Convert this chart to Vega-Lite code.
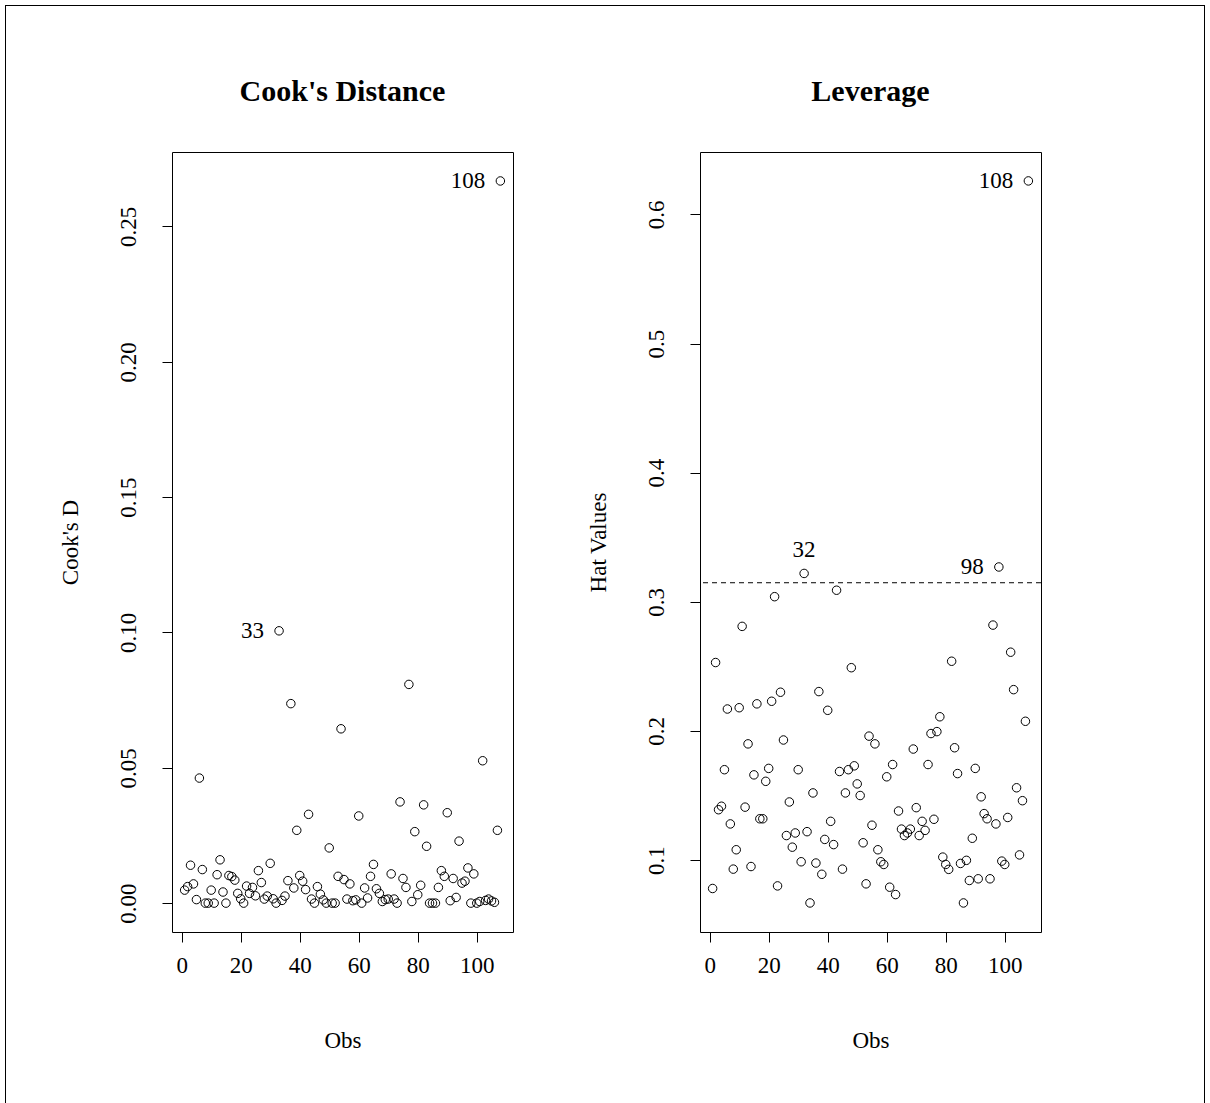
{
  "$schema": "https://vega.github.io/schema/vega-lite/v6.json",
  "background": "white",
  "padding": 5,
  "bounds": "flush",
  "spacing": 0,
  "config": {
    "font": "Liberation Serif",
    "view": {"stroke": "black", "strokeWidth": 1},
    "axis": {
      "domain": false, "grid": false, "tickColor": "black", "tickSize": 10, "tickWidth": 1,
      "labelColor": "black", "titleColor": "black", "labelFont": "Liberation Serif", "titleFont": "Liberation Serif",
      "labelFontSize": 23, "titleFontSize": 23, "titleFontWeight": "normal",
      "labelFlush": false, "labelOverlap": false, "labelBound": false
    },
    "title": {"font": "Liberation Serif", "fontSize": 30, "fontWeight": "bold", "color": "black"}
  },
  "datasets": {
    "obs": [
      {"Obs":1,"cooksD":0.0048,"hat":0.078},{"Obs":2,"cooksD":0.0061,"hat":0.253},{"Obs":3,"cooksD":0.014,"hat":0.139},
      {"Obs":4,"cooksD":0.0071,"hat":0.1417},{"Obs":5,"cooksD":0.0013,"hat":0.170},{"Obs":6,"cooksD":0.0462,"hat":0.217},
      {"Obs":7,"cooksD":0.0124,"hat":0.128},{"Obs":8,"cooksD":0.0,"hat":0.093},{"Obs":9,"cooksD":0.0,"hat":0.108},
      {"Obs":10,"cooksD":0.0048,"hat":0.218},{"Obs":11,"cooksD":0.0,"hat":0.281},{"Obs":12,"cooksD":0.0105,"hat":0.141},
      {"Obs":13,"cooksD":0.016,"hat":0.190},{"Obs":14,"cooksD":0.0041,"hat":0.095},{"Obs":15,"cooksD":0.0,"hat":0.166},
      {"Obs":16,"cooksD":0.0102,"hat":0.221},{"Obs":17,"cooksD":0.0098,"hat":0.132},{"Obs":18,"cooksD":0.0085,"hat":0.132},
      {"Obs":19,"cooksD":0.0036,"hat":0.161},{"Obs":20,"cooksD":0.0016,"hat":0.171},{"Obs":21,"cooksD":0.0,"hat":0.223},
      {"Obs":22,"cooksD":0.0063,"hat":0.304},{"Obs":23,"cooksD":0.0036,"hat":0.080},{"Obs":24,"cooksD":0.0058,"hat":0.230},
      {"Obs":25,"cooksD":0.0027,"hat":0.193},{"Obs":26,"cooksD":0.012,"hat":0.119},{"Obs":27,"cooksD":0.0076,"hat":0.145},
      {"Obs":28,"cooksD":0.0015,"hat":0.110},{"Obs":29,"cooksD":0.0026,"hat":0.121},{"Obs":30,"cooksD":0.0147,"hat":0.170},
      {"Obs":31,"cooksD":0.0016,"hat":0.0987},{"Obs":32,"cooksD":0.0,"hat":0.322},{"Obs":33,"cooksD":0.1006,"hat":0.122},
      {"Obs":34,"cooksD":0.001,"hat":0.0668},{"Obs":35,"cooksD":0.0026,"hat":0.152},{"Obs":36,"cooksD":0.0083,"hat":0.0977},
      {"Obs":37,"cooksD":0.0737,"hat":0.2305},{"Obs":38,"cooksD":0.0056,"hat":0.089},{"Obs":39,"cooksD":0.0269,"hat":0.116},
      {"Obs":40,"cooksD":0.0102,"hat":0.216},{"Obs":41,"cooksD":0.0081,"hat":0.130},{"Obs":42,"cooksD":0.005,"hat":0.112},
      {"Obs":43,"cooksD":0.0328,"hat":0.309},{"Obs":44,"cooksD":0.0015,"hat":0.1686},{"Obs":45,"cooksD":0.0,"hat":0.093},
      {"Obs":46,"cooksD":0.0061,"hat":0.152},{"Obs":47,"cooksD":0.0033,"hat":0.170},{"Obs":48,"cooksD":0.0012,"hat":0.249},
      {"Obs":49,"cooksD":0.0,"hat":0.173},{"Obs":50,"cooksD":0.0204,"hat":0.159},{"Obs":51,"cooksD":0.0,"hat":0.150},
      {"Obs":52,"cooksD":0.0,"hat":0.1134},{"Obs":53,"cooksD":0.0099,"hat":0.0816},{"Obs":54,"cooksD":0.0644,"hat":0.196},
      {"Obs":55,"cooksD":0.0087,"hat":0.127},{"Obs":56,"cooksD":0.0015,"hat":0.190},{"Obs":57,"cooksD":0.0071,"hat":0.108},
      {"Obs":58,"cooksD":0.0009,"hat":0.0987},{"Obs":59,"cooksD":0.0012,"hat":0.0966},{"Obs":60,"cooksD":0.0322,"hat":0.1645},
      {"Obs":61,"cooksD":0.0,"hat":0.079},{"Obs":62,"cooksD":0.0056,"hat":0.174},{"Obs":63,"cooksD":0.0019,"hat":0.0733},
      {"Obs":64,"cooksD":0.0099,"hat":0.138},{"Obs":65,"cooksD":0.0143,"hat":0.124},{"Obs":66,"cooksD":0.0053,"hat":0.119},
      {"Obs":67,"cooksD":0.0036,"hat":0.121},{"Obs":68,"cooksD":0.0006,"hat":0.124},{"Obs":69,"cooksD":0.0013,"hat":0.186},
      {"Obs":70,"cooksD":0.0015,"hat":0.1406},{"Obs":71,"cooksD":0.0108,"hat":0.119},{"Obs":72,"cooksD":0.0015,"hat":0.130},
      {"Obs":73,"cooksD":0.0,"hat":0.123},{"Obs":74,"cooksD":0.0374,"hat":0.174},{"Obs":75,"cooksD":0.0091,"hat":0.198},
      {"Obs":76,"cooksD":0.0058,"hat":0.1316},{"Obs":77,"cooksD":0.0808,"hat":0.1995},{"Obs":78,"cooksD":0.0006,"hat":0.211},
      {"Obs":79,"cooksD":0.0264,"hat":0.1023},{"Obs":80,"cooksD":0.0031,"hat":0.0966},{"Obs":81,"cooksD":0.0066,"hat":0.0928},
      {"Obs":82,"cooksD":0.0363,"hat":0.254},{"Obs":83,"cooksD":0.021,"hat":0.187},{"Obs":84,"cooksD":0.0,"hat":0.167},
      {"Obs":85,"cooksD":0.0,"hat":0.0974},{"Obs":86,"cooksD":0.0,"hat":0.0668},{"Obs":87,"cooksD":0.0058,"hat":0.0998},
      {"Obs":88,"cooksD":0.012,"hat":0.0842},{"Obs":89,"cooksD":0.0099,"hat":0.1169},{"Obs":90,"cooksD":0.0334,"hat":0.171},
      {"Obs":91,"cooksD":0.0009,"hat":0.0855},{"Obs":92,"cooksD":0.0091,"hat":0.149},{"Obs":93,"cooksD":0.0021,"hat":0.136},
      {"Obs":94,"cooksD":0.0229,"hat":0.132},{"Obs":95,"cooksD":0.0074,"hat":0.0855},{"Obs":96,"cooksD":0.0081,"hat":0.282},
      {"Obs":97,"cooksD":0.013,"hat":0.128},{"Obs":98,"cooksD":0.0,"hat":0.327},{"Obs":99,"cooksD":0.0108,"hat":0.0992},
      {"Obs":100,"cooksD":0.0,"hat":0.0966},{"Obs":101,"cooksD":0.0006,"hat":0.133},{"Obs":102,"cooksD":0.0526,"hat":0.261},
      {"Obs":103,"cooksD":0.001,"hat":0.232},{"Obs":104,"cooksD":0.0015,"hat":0.156},{"Obs":105,"cooksD":0.0008,"hat":0.104},
      {"Obs":106,"cooksD":0.0003,"hat":0.146},{"Obs":107,"cooksD":0.0269,"hat":0.2075},{"Obs":108,"cooksD":0.2668,"hat":0.626}
    ],
    "cutoff": [{"cut": 0.3148}],
    "frame": [{"part": "frame"}]
  },
  "vconcat": [
    {"width": 1200, "height": 1, "view": {"fill": "black", "stroke": null}, "data": {"name": "frame"}, "mark": {"type": "point", "opacity": 0, "size": 0},
      "encoding": {"x": {"field": "part", "type": "nominal", "axis": null}, "y": {"field": "part", "type": "nominal", "axis": null}}},
    {
      "hconcat": [
        {
          "hconcat": [
            {"width": 1, "height": 1100, "view": {"fill": "black", "stroke": null}, "data": {"name": "frame"}, "mark": {"type": "point", "opacity": 0, "size": 0},
              "encoding": {"x": {"field": "part", "type": "nominal", "axis": null}, "y": {"field": "part", "type": "nominal", "axis": null}}},
            {
              "vconcat": [
                {"width": 1, "height": 146, "view": {"stroke": null}, "data": {"name": "frame"}, "mark": {"type": "point", "opacity": 0, "size": 0},
                  "encoding": {"x": {"field": "part", "type": "nominal", "axis": null}, "y": {"field": "part", "type": "nominal", "axis": null}}},
                {
                  "hconcat": [
                    {
                      "width": 341, "height": 780,
                      "title": {"text": "Cook's Distance", "anchor": "middle", "frame": "group", "baseline": "alphabetic", "offset": 21},
                      "data": {"name": "obs"},
                      "layer": [
                        {
                          "mark": {"type": "point", "filled": false, "color": "black", "size": 72, "strokeWidth": 1, "opacity": 1},
                          "encoding": {
                            "x": {"field": "Obs", "type": "quantitative", "scale": {"domain": [-3.28, 112.28], "nice": false, "zero": false},
                              "axis": {"values": [0, 20, 40, 60, 80, 100], "labelBaseline": "middle", "labelPadding": 23,
                                "title": "Obs", "titleX": 170.5, "titleY": 108, "titleBaseline": "middle", "titleAlign": "center"}},
                            "y": {"field": "cooksD", "type": "quantitative", "scale": {"domain": [-0.01067, 0.2775], "nice": false, "zero": false},
                              "axis": {"values": [0, 0.05, 0.1, 0.15, 0.2, 0.25], "format": ".2f", "labelAngle": 270, "labelAlign": "center",
                                "labelBaseline": "middle", "labelPadding": 34,
                                "title": "Cook's D", "titleAngle": 270, "titleX": -102, "titleY": 390, "titleAlign": "center", "titleBaseline": "middle"}}
                          }
                        },
                        {
                          "transform": [{"filter": "datum.Obs == 33 || datum.Obs == 108"}],
                          "mark": {"type": "text", "align": "right", "baseline": "middle", "dx": -15, "fontSize": 23, "color": "black"},
                          "encoding": {
                            "x": {"field": "Obs", "type": "quantitative"},
                            "y": {"field": "cooksD", "type": "quantitative"},
                            "text": {"field": "Obs", "type": "nominal"}
                          }
                        }
                      ]
                    },
                    {
                      "width": 341, "height": 780,
                      "title": {"text": "Leverage", "anchor": "middle", "frame": "group", "baseline": "alphabetic", "offset": 21},
                      "data": {"name": "obs"},
                      "layer": [
                        {
                          "mark": {"type": "point", "filled": false, "color": "black", "size": 72, "strokeWidth": 1, "opacity": 1},
                          "encoding": {
                            "x": {"field": "Obs", "type": "quantitative", "scale": {"domain": [-3.28, 112.28], "nice": false, "zero": false},
                              "axis": {"values": [0, 20, 40, 60, 80, 100], "labelBaseline": "middle", "labelPadding": 23,
                                "title": "Obs", "titleX": 170.5, "titleY": 108, "titleBaseline": "middle", "titleAlign": "center"}},
                            "y": {"field": "hat", "type": "quantitative", "scale": {"domain": [0.0443, 0.6484], "nice": false, "zero": false},
                              "axis": {"values": [0.1, 0.2, 0.3, 0.4, 0.5, 0.6], "format": ".1f", "labelAngle": 270, "labelAlign": "center",
                                "labelBaseline": "middle", "labelPadding": 34,
                                "title": "Hat Values", "titleAngle": 270, "titleX": -102, "titleY": 390, "titleAlign": "center", "titleBaseline": "middle"}}
                          }
                        },
                        {
                          "data": {"name": "cutoff"},
                          "mark": {"type": "rule", "color": "black", "strokeWidth": 1, "strokeDash": [5, 4]},
                          "encoding": {
                            "y": {"field": "cut", "type": "quantitative", "title": "Hat Values"}
                          }
                        },
                        {
                          "transform": [{"filter": "datum.Obs == 98 || datum.Obs == 108"}],
                          "mark": {"type": "text", "align": "right", "baseline": "middle", "dx": -15, "fontSize": 23, "color": "black"},
                          "encoding": {
                            "x": {"field": "Obs", "type": "quantitative"},
                            "y": {"field": "hat", "type": "quantitative"},
                            "text": {"field": "Obs", "type": "nominal"}
                          }
                        },
                        {
                          "transform": [{"filter": "datum.Obs == 32"}],
                          "mark": {"type": "text", "align": "center", "baseline": "middle", "dy": -23, "fontSize": 23, "color": "black"},
                          "encoding": {
                            "x": {"field": "Obs", "type": "quantitative"},
                            "y": {"field": "hat", "type": "quantitative"},
                            "text": {"field": "Obs", "type": "nominal"}
                          }
                        }
                      ]
                    }
                  ],
                  "spacing": 187, "bounds": "flush"
                }
              ],
              "spacing": 0, "bounds": "flush"
            }
          ],
          "spacing": 166, "bounds": "flush"
        },
        {"width": 1, "height": 1100, "view": {"fill": "black", "stroke": null}, "data": {"name": "frame"}, "mark": {"type": "point", "opacity": 0, "size": 0},
          "encoding": {"x": {"field": "part", "type": "nominal", "axis": null}, "y": {"field": "part", "type": "nominal", "axis": null}}}
      ],
      "spacing": 1199, "bounds": "flush"
    }
  ]
}
